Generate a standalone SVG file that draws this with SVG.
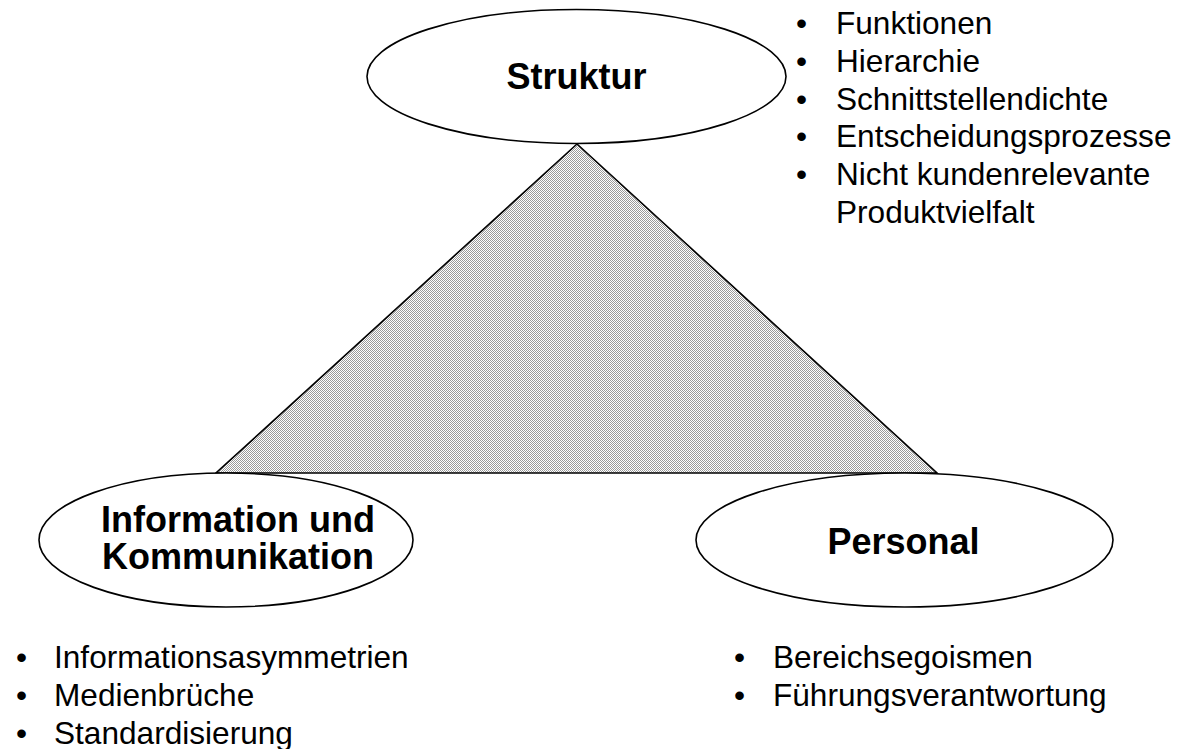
<svg xmlns="http://www.w3.org/2000/svg" width="1184" height="749" viewBox="0 0 1184 749">
  <style>
    .node { fill: #ffffff; stroke: #000000; stroke-width: 1.6; }
    .title { font-family: "Liberation Sans", Arial, sans-serif; font-weight: bold; font-size: 36px; fill: #000000; text-anchor: middle; }
    .item { font-family: "Liberation Sans", Arial, sans-serif; font-size: 31.6px; fill: #000000; }
  </style>
  <defs>
    <!-- fine checkerboard hatching for the triangle -->
    <pattern id="checker" width="2" height="2" patternUnits="userSpaceOnUse">
      <rect width="2" height="2" fill="#ffffff"/>
      <rect x="0" y="0" width="1" height="1" fill="#9a9a9a"/>
      <rect x="1" y="1" width="1" height="1" fill="#9a9a9a"/>
    </pattern>
  </defs>

  <rect width="1184" height="749" fill="#ffffff"/>

  <!-- connecting triangle -->
  <g id="connectors">
    <polygon points="577,144 216,473 937,473" fill="url(#checker)" stroke="#000000" stroke-width="1.6" stroke-linejoin="miter"/>
  </g>

  <g id="struktur">
    <ellipse class="node" cx="576.5" cy="76.5" rx="209.5" ry="67"/>
    <text class="title" x="576.5" y="89">Struktur</text>
  </g>

  <g id="information">
    <ellipse class="node" cx="226" cy="540" rx="187" ry="67"/>
    <text class="title" x="238" y="532">Information und</text>
    <text class="title" x="238" y="569">Kommunikation</text>
  </g>

  <g id="personal">
    <ellipse class="node" cx="904.5" cy="540" rx="208.5" ry="67"/>
    <text class="title" x="903.5" y="554">Personal</text>
  </g>

  <g id="struktur-items">
    <text class="item" x="796" y="34">•</text><text class="item" x="836" y="34">Funktionen</text>
    <text class="item" x="796" y="72">•</text><text class="item" x="836" y="72">Hierarchie</text>
    <text class="item" x="796" y="110">•</text><text class="item" x="836" y="110">Schnittstellendichte</text>
    <text class="item" x="796" y="147">•</text><text class="item" x="836" y="147">Entscheidungsprozesse</text>
    <text class="item" x="796" y="185">•</text><text class="item" x="836" y="185">Nicht kundenrelevante</text>
    <text class="item" x="836" y="223">Produktvielfalt</text>
  </g>

  <g id="information-items">
    <text class="item" x="16" y="668">•</text><text class="item" x="54" y="668">Informationsasymmetrien</text>
    <text class="item" x="16" y="706">•</text><text class="item" x="54" y="706">Medienbrüche</text>
    <text class="item" x="16" y="744">•</text><text class="item" x="54" y="744">Standardisierung</text>
  </g>

  <g id="personal-items">
    <text class="item" x="734" y="668">•</text><text class="item" x="773" y="668">Bereichsegoismen</text>
    <text class="item" x="734" y="706">•</text><text class="item" x="773" y="706">Führungsverantwortung</text>
  </g>
</svg>
